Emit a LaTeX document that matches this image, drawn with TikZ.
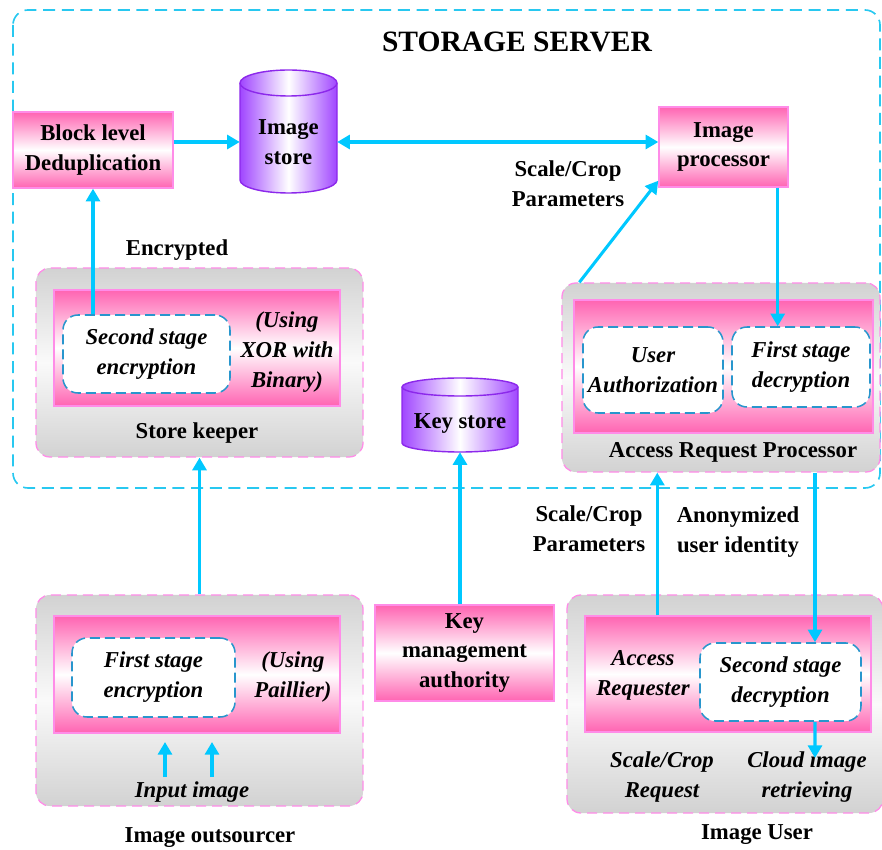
\documentclass[tikz,border=0pt]{standalone}
\usepackage{fontspec}
\setmainfont{Liberation Serif}
\usetikzlibrary{arrows.meta}

\definecolor{arrowcyan}{RGB}{0,200,255}
\definecolor{serverblue}{RGB}{40,200,240}
\definecolor{hotpink}{RGB}{255,100,178}
\definecolor{pinkline}{RGB}{255,140,232}
\definecolor{storepurple}{RGB}{160,70,255}
\definecolor{storeline}{RGB}{140,40,235}
\definecolor{boxgray}{RGB}{210,210,210}
\definecolor{dashblue}{RGB}{40,150,205}

% cylinder body: left x, right x, top side y, bottom side y, end radius
\newcommand{\drawcyl}[5]{%
  \path[store body] (#1,#3) -- (#1,#4)
    arc[start angle=180,end angle=0,x radius={(#2-#1)/2},y radius=#5] -- (#2,#3)
    arc[start angle=0,end angle=-180,x radius={(#2-#1)/2},y radius=#5] -- cycle;
  \draw[store edge] (#1,#3) arc[start angle=180,end angle=0,x radius={(#2-#1)/2},y radius=#5];}

\begin{document}
\begin{tikzpicture}[x=0.03cm,y=-0.03cm]
  \tikzstyle{every node} = [font=\bfseries\fontsize{19.4}{25.5}\selectfont, align=center, inner sep=0pt]
  \tikzstyle{slanted} = [font=\bfseries\itshape\fontsize{19.4}{25.5}\selectfont]
  \tikzstyle{pinkbox} = [rectangle, draw=pinkline, line width=1.2pt, top color=hotpink, bottom color=hotpink, middle color=white]
  \tikzstyle{graybox} = [rectangle, rounded corners=0.42cm, draw=pinkline, line width=1.1pt, dash pattern=on 0.3cm off 0.18cm, top color=boxgray, bottom color=boxgray, middle color=gray!4]
  \tikzstyle{whitebox} = [rectangle, rounded corners=0.45cm, fill=white, draw=dashblue, line width=1.3pt, dash pattern=on 0.3cm off 0.15cm, slanted]
  \tikzstyle{store body} = [draw=storeline, line width=1.2pt, left color=storepurple, right color=storepurple, middle color=white]
  \tikzstyle{store edge} = [draw=storeline, line width=1.2pt]
  \tikzstyle{server} = [draw=serverblue, line width=1.4pt, rounded corners=0.45cm, dash pattern=on 0.36cm off 0.2cm]
  \tikzstyle{flow} = [draw=arrowcyan, line width=2.6pt, -{Triangle[length=0.38cm,width=0.42cm]}]
  \tikzstyle{twoflow} = [flow, {Triangle[length=0.38cm,width=0.42cm]}-{Triangle[length=0.38cm,width=0.42cm]}]

  \useasboundingbox (0,0) rectangle (882,850);

  % storage server
  \draw[server] (13,10) rectangle (880,488);
  \node (title) at (517,42) {\fontsize{25.2}{30}\selectfont STORAGE SERVER};

  \node[pinkbox, minimum width=4.8cm, minimum height=2.28cm] (dedup) at (93,150) {Block level\\Deduplication};
  \drawcyl{240}{337}{83}{180}{13}
  \node[minimum width=2.91cm, minimum height=3.06cm] (imgstore) at (288.5,142) {Image\\store};
  \node[pinkbox, minimum width=3.87cm, minimum height=2.4cm] (imgproc) at (723.5,147) {Image\\processor};
  \node (scaleup) at (568,184) {Scale/Crop\\Parameters};
  \node (encr) at (177,250) {Encrypted};

  % store keeper
  \node[graybox, minimum width=9.81cm, minimum height=5.67cm] (keeper) at (199.5,362.5) {};
  \node[pinkbox, minimum width=8.58cm, minimum height=3.48cm] (kpink) at (197,348) {};
  \node[whitebox, minimum width=5.01cm, minimum height=2.34cm] (sse) at (146.5,354) {Second stage\\encryption};
  \node[slanted] (xor) at (287,352) {(Using\\XOR with\\Binary)};
  \node (keeperlbl) at (197,433) {Store keeper};

  % access request processor
  \node[graybox, minimum width=9.54cm, minimum height=5.67cm] (arp) at (721,377.5) {};
  \node[pinkbox, minimum width=8.97cm, minimum height=3.99cm] (arppink) at (723.5,366.5) {};
  \node[whitebox, minimum width=4.2cm, minimum height=2.58cm] (uauth) at (653,370) {User\\Authorization};
  \node[whitebox, minimum width=4.14cm, minimum height=2.4cm] (fsd) at (801,367) {First stage\\decryption};
  \node (arplbl) at (733,452) {Access Request Processor};

  % key store
  \drawcyl{402}{518}{387}{443}{9}
  \node[minimum width=3.48cm, minimum height=1.68cm] (keystore) at (460,424) {Key store};
  \node[pinkbox, minimum width=5.37cm, minimum height=2.88cm] (keymgmt) at (464.5,653) {Key\\management\\authority};

  % image outsourcer
  \node[graybox, minimum width=9.81cm, minimum height=6.33cm] (outsrc) at (199.5,700.5) {};
  \node[pinkbox, minimum width=8.58cm, minimum height=3.51cm] (ospink) at (197,674.5) {};
  \node[whitebox, minimum width=4.89cm, minimum height=2.37cm] (fse) at (153.5,677.5) {First stage\\encryption};
  \node[slanted] (paillier) at (293,677) {(Using\\Paillier)};
  \node[slanted] (inputlbl) at (192,792) {Input image};
  \node (outsrclbl) at (210,838) {Image outsourcer};

  % image user
  \node[graybox, minimum width=9.48cm, minimum height=6.54cm] (user) at (725,704) {};
  \node[pinkbox, minimum width=8.58cm, minimum height=3.48cm] (upink) at (728,674) {};
  \node[whitebox, minimum width=4.83cm, minimum height=2.34cm] (ssd) at (780.5,682) {Second stage\\decryption};
  \node[slanted] (requester) at (643,675) {Access\\Requester};
  \node[slanted] (scalereq) at (662,777) {Scale/Crop\\Request};
  \node[slanted] (cloud) at (807,777) {Cloud image\\retrieving};
  \node (userlbl) at (757,835) {Image User};
  \node (scaledown) at (589,529) {Scale/Crop\\Parameters};
  \node (anon) at (738,532) {Anonymized\\user identity};

  % connectors
  \coordinate (procout) at ([xshift=-0.33cm]imgproc.south east);
  \coordinate (reqout) at ([xshift=2.19cm]upink.north west);
  \coordinate (ssdin) at ([xshift=1.035cm]ssd.north);
  \coordinate (retr) at (815,758);
  \coordinate (in1) at (165,777);
  \coordinate (in1top) at (165,742);
  \coordinate (in2) at (212,777);
  \coordinate (in2top) at (212,742);

  \draw[flow] (dedup.east |- imgstore.west) -- (imgstore.west);
  \draw[twoflow] (imgstore.east) -- (imgproc.west |- imgstore.east);
  \draw[flow] (sse.north -| dedup.south) -- (dedup.south);
  \draw[flow] ([xshift=0.54cm]arp.north west) -- ([yshift=0.21cm]imgproc.south west);
  \draw[flow] (procout) -- (procout |- fsd.north);
  \draw[flow] (keymgmt.north -| keystore.south) -- (keystore.south);
  \draw[flow] (outsrc.north) -- (keeper.south);
  \draw[flow] (reqout) -- (reqout |- arp.south);
  \draw[flow] (arp.south -| ssdin) -- (ssdin);
  \draw[flow] (ssdin |- ssd.south) -- (retr);
  \draw[flow] (in1) -- (in1top);
  \draw[flow] (in2) -- (in2top);
\end{tikzpicture}
\end{document}
